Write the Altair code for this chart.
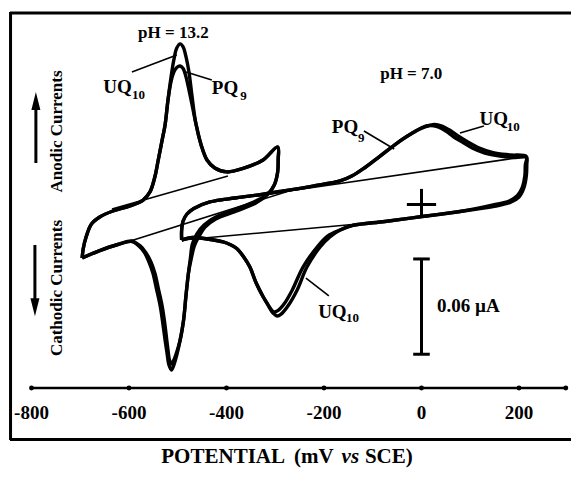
import altair as alt
import pandas as pd

# ---------------- data (potential: mV vs SCE, current: nA, anodic positive) ----------------
# pH 13.2, UQ10
ph13_uq10_E = [-696, -694, -688, -677, -660, -633, -598, -571, -557, -547, -540, -532, -526, -520, -514,
               -508, -502, -495, -489, -483, -477, -471, -463, -452, -440, -424, -399, -366, -325, -295,
               -294, -295, -302, -315, -340, -379, -422, -446, -461, -470, -474, -478, -483, -488, -495,
               -502, -508, -513, -518, -522, -526, -531, -536, -544, -551, -559, -569, -582, -594, -623,
               -660, -696]
ph13_uq10_I = [-33.7, -28.0, -20.5, -12.3, -7.9, -4.1, -0.9, 2.8, 7.9, 17.3, 28.0, 40.6, 50.1, 65.8, 79.7,
               91.0, 98.5, 101.1, 99.2, 92.9, 83.4, 69.0, 51.3, 37.5, 28.0, 23.0, 20.5, 22.7, 28.0, 36.2,
               28.0, 20.5, 12.3, 6.6, 2.2, -2.8, -7.9, -12.9, -18.6, -24.9, -33.7, -43.1, -57.0, -72.7, -85.3,
               -94.8, -101.1, -104.2, -101.1, -93.5, -85.3, -74.0, -63.9, -52.6, -43.1, -36.2, -29.9, -25.5, -23.0, -25.2,
               -29.0, -33.7]
# pH 13.2, PQ9
ph13_pq9_E = [-696, -694, -688, -677, -660, -633, -598, -571, -557, -547, -540, -532, -526, -520, -514,
              -508, -502, -495, -489, -483, -477, -471, -463, -452, -440, -424, -399, -366, -325, -295,
              -294, -295, -302, -315, -340, -379, -422, -444, -456, -466, -472, -478, -483, -488, -495,
              -502, -508, -513, -517, -520, -523, -527, -532, -540, -547, -555, -565, -577, -594, -623,
              -660, -696]
ph13_pq9_I = [-33.7, -28.0, -20.5, -12.3, -7.9, -4.1, -0.9, 2.8, 7.9, 17.3, 28.0, 40.6, 50.1, 65.8, 77.1,
              83.4, 86.3, 87.2, 85.6, 80.3, 72.1, 63.3, 51.3, 37.5, 28.0, 23.0, 20.5, 22.7, 28.0, 36.2,
              28.0, 20.5, 12.3, 6.6, 0.9, -4.1, -9.1, -14.2, -19.8, -26.1, -33.7, -43.1, -57.0, -72.7, -85.3,
              -92.9, -97.9, -100.4, -97.9, -91.6, -84.1, -74.0, -63.9, -52.6, -43.1, -36.2, -30.5, -26.1, -23.3, -25.2,
              -29.0, -33.7]
# pH 7.0, UQ10
ph7_uq10_E = [-492, -492, -489, -481, -467, -434, -383, -342, -290, -223, -167, -143, -120, -85, -50, -17,
              7, 26, 42, 59, 75, 95, 116, 147, 182, 215,
              216, 215, 210, 200, 182, 147, 79, 1, -75, -141, -167, -188, -208, -235, -255, -274, -288,
              -296, -305, -315, -325, -340, -352, -366, -379, -393, -407, -440, -469, -492]
ph7_uq10_I = [-22.4, -16.1, -10.4, -6.0, -2.5, 1.6, 4.1, 5.7, 8.2, 11.6, 14.8, 17.9, 22.4, 30.5, 38.7, 45.3,
              48.8, 50.4, 49.4, 46.6, 43.1, 39.4, 35.9, 32.7, 31.2, 30.2,
              24.9, 17.9, 10.4, 4.7, 1.3, -1.3, -4.4, -7.6, -10.7, -13.2, -16.1, -20.5, -26.8, -39.4, -53.8, -63.9, -69.0,
              -70.2, -68.3, -63.3, -57.9, -48.8, -39.4, -32.4, -27.7, -25.2, -23.6, -21.7, -20.8, -22.4]
# pH 7.0, PQ9
ph7_pq9_E = [-492, -492, -489, -481, -467, -434, -383, -342, -290, -223, -167, -143, -120, -85, -50, -17,
             1, 17, 34, 50, 65, 83, 104, 130, 161, 192, 215,
             213, 212, 207, 197, 180, 147, 79, 1, -75, -141, -167, -192, -214, -243, -265, -282, -294,
             -303, -309, -317, -327, -340, -352, -366, -379, -393, -407, -440, -469, -492]
ph7_pq9_I = [-22.4, -16.1, -10.4, -6.0, -2.5, 1.6, 4.1, 5.7, 8.2, 11.6, 14.8, 17.9, 22.4, 30.5, 38.7, 45.3,
             48.5, 49.7, 48.8, 46.3, 42.8, 39.4, 35.6, 32.4, 30.5, 29.6, 29.6,
             24.9, 17.9, 11.0, 5.7, 2.2, -0.3, -4.4, -7.6, -10.7, -13.2, -16.1, -19.8, -26.8, -39.4, -53.8, -62.7, -66.7,
             -67.7, -65.8, -62.0, -57.0, -48.8, -39.4, -32.4, -27.7, -25.2, -23.6, -21.7, -20.8, -22.4]

# peak-current baselines (thin straight lines)
base_E1 = [-635, -594, -444, -491]
base_I1 = [-2.8, -22.7, 0.9, -22.4]
base_E2 = [-397, -249, 215, -75]
base_I2 = [17.9, 10.7, 30.2, -10.7]

# label leader lines
lead_E1 = [-594, -483, -118, 79, -237]
lead_I1 = [83.4, 83.4, 46.3, 45.0, -46.3]
lead_E2 = [-502, -430, -56, 128, -190]
lead_I2 = [94.1, 78.4, 34.9, 49.4, -57.6]

# origin cross and 0.06 uA scale bar
cross_E1 = [-30, 0]
cross_I1 = [0, 9.8]
cross_E2 = [30, 0]
cross_I2 = [0, -7.9]
bar_E1 = [0, -17, -17]
bar_I1 = [-34.3, -34.3, -94.3]
bar_E2 = [0, 17, 17]
bar_I2 = [-94.3, -34.3, -94.3]

# potential axis drawn inside the frame
axis_ticks = [-800, -600, -400, -200, 0, 200]
axis_end = 296
axis_I = -115.6
tick_label_I = -131.0

# labels
main_lab_text = ["UQ", "PQ", "PQ", "UQ", "UQ", "0.06 \u00b5A"]
main_lab_E = [-653, -430, -184, 119, -212, 32]
main_lab_I = [73.7, 73.1, 48.5, 53.8, -68.0, -63.9]
sub_lab_text = ["10", "9", "9", "10", "10"]
sub_lab_E = [-594, -372, -130, 175, -155]
sub_lab_I = [69.0, 68.3, 41.9, 48.8, -71.5]
ph_text = ["pH = 13.2", "pH = 7.0"]
ph_E = [-509, -21]
ph_I = [108.0, 82.2]
side_text = ["Anodic Currents", "Cathodic Currents"]
side_E = [-748, -748]
side_I = [46.0, -52.6]

# arrows
arrow_E = [-791, -793]
arrow_I1 = [26.1, -25.5]
arrow_I2 = [63.0, -63.0]
head_I = [65.2, -64.7]

# frame and title
X_DOMAIN = [-844.1, 306.7]
Y_DOMAIN = [-148.3, 121.2]
frame_left = -843.0
frame_top = 120.6
frame_bottom = -148.0
title_I = -159.0
title_parts = ["POTENTIAL", "(mV", "vs", "SCE)"]
title_E = [-280, -180, -146, -116]
title_align = ["right", "right", "center", "left"]

# ---------------- build ----------------
rows = []
for name, es, cs in [("pH13 UQ10", ph13_uq10_E, ph13_uq10_I), ("pH13 PQ9", ph13_pq9_E, ph13_pq9_I),
                     ("pH7 UQ10", ph7_uq10_E, ph7_uq10_I), ("pH7 PQ9", ph7_pq9_E, ph7_pq9_I)]:
    for k, (e, c) in enumerate(zip(es, cs)):
        rows.append({"trace": name, "k": k, "E": e, "I": c})
curves = pd.DataFrame(rows)

xs = alt.Scale(domain=X_DOMAIN, nice=False, zero=False)
ys = alt.Scale(domain=Y_DOMAIN, nice=False, zero=False)
FONT = "Liberation Serif"


def seg_df(e1, i1, e2, i2):
    return pd.DataFrame({"E": e1, "I": i1, "E2": e2, "I2": i2})


def segs(df, width):
    return alt.Chart(df).mark_rule(color="black", strokeWidth=width).encode(
        x=alt.X("E:Q", scale=xs, axis=None), y=alt.Y("I:Q", scale=ys, axis=None),
        x2="E2:Q", y2="I2:Q")


def texts(df, size, align="left", **kw):
    return alt.Chart(df).mark_text(font=FONT, fontWeight="bold", fontSize=size, align=align,
                                   baseline="middle", color="black", **kw).encode(
        x=alt.X("E:Q", scale=xs, axis=None), y=alt.Y("I:Q", scale=ys, axis=None), text="t:N")


curve_layer = alt.Chart(curves).mark_line(color="black", strokeWidth=3.4, strokeJoin="round",
                                          interpolate="catmull-rom").encode(
    x=alt.X("E:Q", scale=xs, axis=None), y=alt.Y("I:Q", scale=ys, axis=None),
    detail="trace:N", order="k:Q")

baselines = segs(seg_df(base_E1, base_I1, base_E2, base_I2), 1.5)
leaders = segs(seg_df(lead_E1, lead_I1, lead_E2, lead_I2), 1.6)
cross = segs(seg_df(cross_E1, cross_I1, cross_E2, cross_I2), 3)
bar = segs(seg_df(bar_E1, bar_I1, bar_E2, bar_I2), 3)

axis_line = segs(seg_df([axis_ticks[0]], [axis_I], [axis_end], [axis_I]), 2.5)
dots = alt.Chart(pd.DataFrame({"E": axis_ticks + [axis_end], "I": [axis_I] * (len(axis_ticks) + 1)})).mark_circle(
    color="black", size=24, opacity=1).encode(
    x=alt.X("E:Q", scale=xs, axis=None), y=alt.Y("I:Q", scale=ys, axis=None))
tick_labels = texts(pd.DataFrame({"E": axis_ticks, "I": [tick_label_I] * len(axis_ticks),
                                  "t": [str(t) for t in axis_ticks]}), 19, "center")

frame = segs(seg_df([frame_left, X_DOMAIN[0], X_DOMAIN[0]],
                    [Y_DOMAIN[0], frame_top, frame_bottom],
                    [frame_left, X_DOMAIN[1], X_DOMAIN[1]],
                    [Y_DOMAIN[1], frame_top, frame_bottom]), 3)

main_labels = texts(pd.DataFrame({"E": main_lab_E, "I": main_lab_I, "t": main_lab_text}), 19)
sub_labels = texts(pd.DataFrame({"E": sub_lab_E, "I": sub_lab_I, "t": sub_lab_text}), 13)
ph_labels = texts(pd.DataFrame({"E": ph_E, "I": ph_I, "t": ph_text}), 17, "center")
side_labels = texts(pd.DataFrame({"E": side_E, "I": side_I, "t": side_text}), 17, "center", angle=270)

shafts = segs(seg_df(arrow_E, arrow_I1, arrow_E, arrow_I2), 3)
heads_df = pd.DataFrame({"E": arrow_E, "I": head_I, "dir": ["up", "down"]})
head_up = alt.Chart(heads_df[heads_df["dir"] == "up"]).mark_point(
    shape="M0,-1L0.5,1L-0.5,1Z", filled=True, color="black", size=324, opacity=1, strokeWidth=0).encode(
    x=alt.X("E:Q", scale=xs, axis=None), y=alt.Y("I:Q", scale=ys, axis=None))
head_down = alt.Chart(heads_df[heads_df["dir"] == "down"]).mark_point(
    shape="M0,1L0.5,-1L-0.5,-1Z", filled=True, color="black", size=324, opacity=1, strokeWidth=0).encode(
    x=alt.X("E:Q", scale=xs, axis=None), y=alt.Y("I:Q", scale=ys, axis=None))

title_layers = []
for part, e, al in zip(title_parts, title_E, title_align):
    extra = {"fontStyle": "italic"} if part == "vs" else {}
    title_layers.append(texts(pd.DataFrame({"E": [e], "I": [title_I], "t": [part]}), 21, al, **extra))

chart = alt.layer(
    frame, baselines, curve_layer, leaders, cross, bar, axis_line, dots, tick_labels,
    main_labels, sub_labels, ph_labels, side_labels, shafts, head_up, head_down,
    *title_layers,
).properties(
    width=561, height=428,
    padding={"left": 2, "top": 4, "right": 0, "bottom": 30},
    autosize=alt.AutoSizeParams(type="none"),
    background="white",
).configure_view(stroke=None)

chart.save("out.html", embed_options={"renderer": "svg", "actions": False})
